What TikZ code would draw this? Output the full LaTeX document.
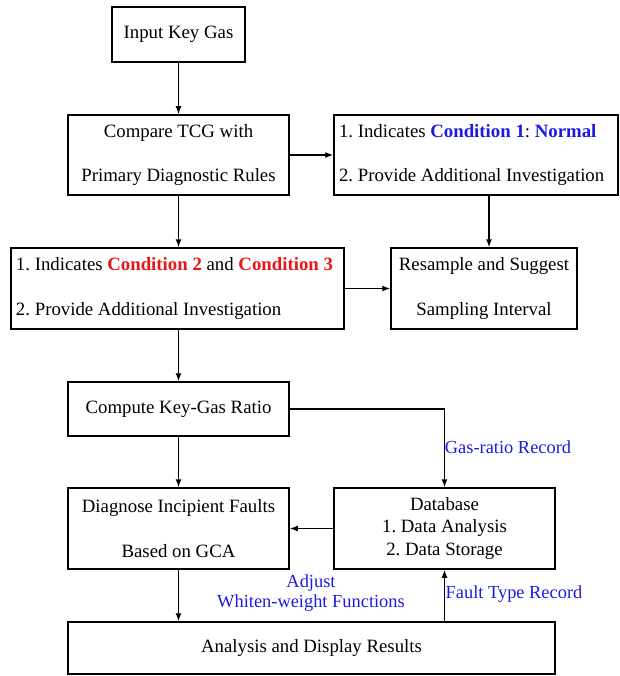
\documentclass[tikz,border=0pt]{standalone}
\usepackage{fontspec}
\setmainfont{Liberation Serif}
\usetikzlibrary{calc,positioning,arrows.meta}
\definecolor{condblue}{RGB}{28,28,225}
\definecolor{condred}{RGB}{232,22,22}

\begin{document}
\begin{tikzpicture}[
  x=1pt,y=-1pt,
  box/.style={rectangle,draw=black,line width=1.5pt,inner sep=0pt,align=center,
    font=\fontsize{18.8}{22.6}\selectfont\frenchspacing},
  lbox/.style={box,align=flush left,inner xsep=5pt},
  flow/.style={line width=1.4pt,-{Latex[length=8pt,width=6pt]}},
  note/.style={text=condblue,align=center,inner sep=0pt,
    font=\fontsize{18.4}{20}\selectfont},
  ]

  \useasboundingbox (0,0) rectangle (619,676);

  %main column
  \node (input) [box,minimum width=133pt,minimum height=55pt] at (178.5,34.5) {Input Key Gas};
  \node (compare) [box,minimum width=221pt,minimum height=80pt] at (178.5,155)
    {Compare TCG with\\[22pt]Primary Diagnostic Rules};
  \node (cond23) [lbox,text width=323pt,minimum height=81pt] at (177.5,288.5)
    {\mbox{1. Indicates \textbf{\color{condred}Condition 2} and \textbf{\color{condred}Condition 3}}\\[22pt]
     2. Provide Additional Investigation};
  \node (ratio) [box,minimum width=221pt,minimum height=54pt] at (178.5,409) {Compute Key-Gas Ratio};
  \node (diagnose) [box,minimum width=221pt,minimum height=81pt] at (178.5,528.5)
    {Diagnose Incipient Faults\\[22pt]Based on GCA};
  \node (display) [box,minimum width=487pt,minimum height=52pt] at (311.5,648) {Analysis and Display Results};

  %right column
  \node (cond1) [lbox,text width=274pt,minimum height=80pt] at (476,155)
    {1. Indicates \textbf{\color{condblue}Condition 1}: \textbf{\color{condblue}Normal}\\[22pt]
     2. Provide Additional Investigation};
  \node (resample) [box,minimum width=186pt,minimum height=81pt] at (484,288.5)
    {Resample and Suggest\\[22pt]Sampling Interval};
  \node (database) [box,minimum width=221pt,minimum height=81pt] at (444.5,528.5)
    {Database\\1. Data Analysis\\2. Data Storage};

  %labels
  \node (gasrec) [note] at (508,447) {Gas-ratio Record};
  \node (adjust) [note] at (311,593) {Adjust\\Whiten-weight Functions};
  \node (faultrec) [note] at (514,594) {Fault Type Record};

  %connectors
  \draw[flow] (input) -- (compare);
  \draw[flow] (compare.east) -- (cond1.west);
  \draw[flow] (compare.south) -- (compare.south |- cond23.north);
  \coordinate (c1out) at ($(cond1.south)+(13,0)$);
  \draw[flow] (c1out) -- (c1out |- resample.north);
  \draw[flow] (cond23.east |- resample.west) -- (resample.west);
  \draw[flow] (ratio.north |- cond23.south) -- (ratio.north);
  \draw[flow] (ratio.east) -| (database.north);
  \draw[flow] (ratio) -- (diagnose);
  \draw[flow] (database.west) -- (diagnose.east);
  \draw[flow] (diagnose.south) -- (diagnose.south |- display.north);
  \draw[flow] (database.south |- display.north) -- (database.south);

\end{tikzpicture}
\end{document}
